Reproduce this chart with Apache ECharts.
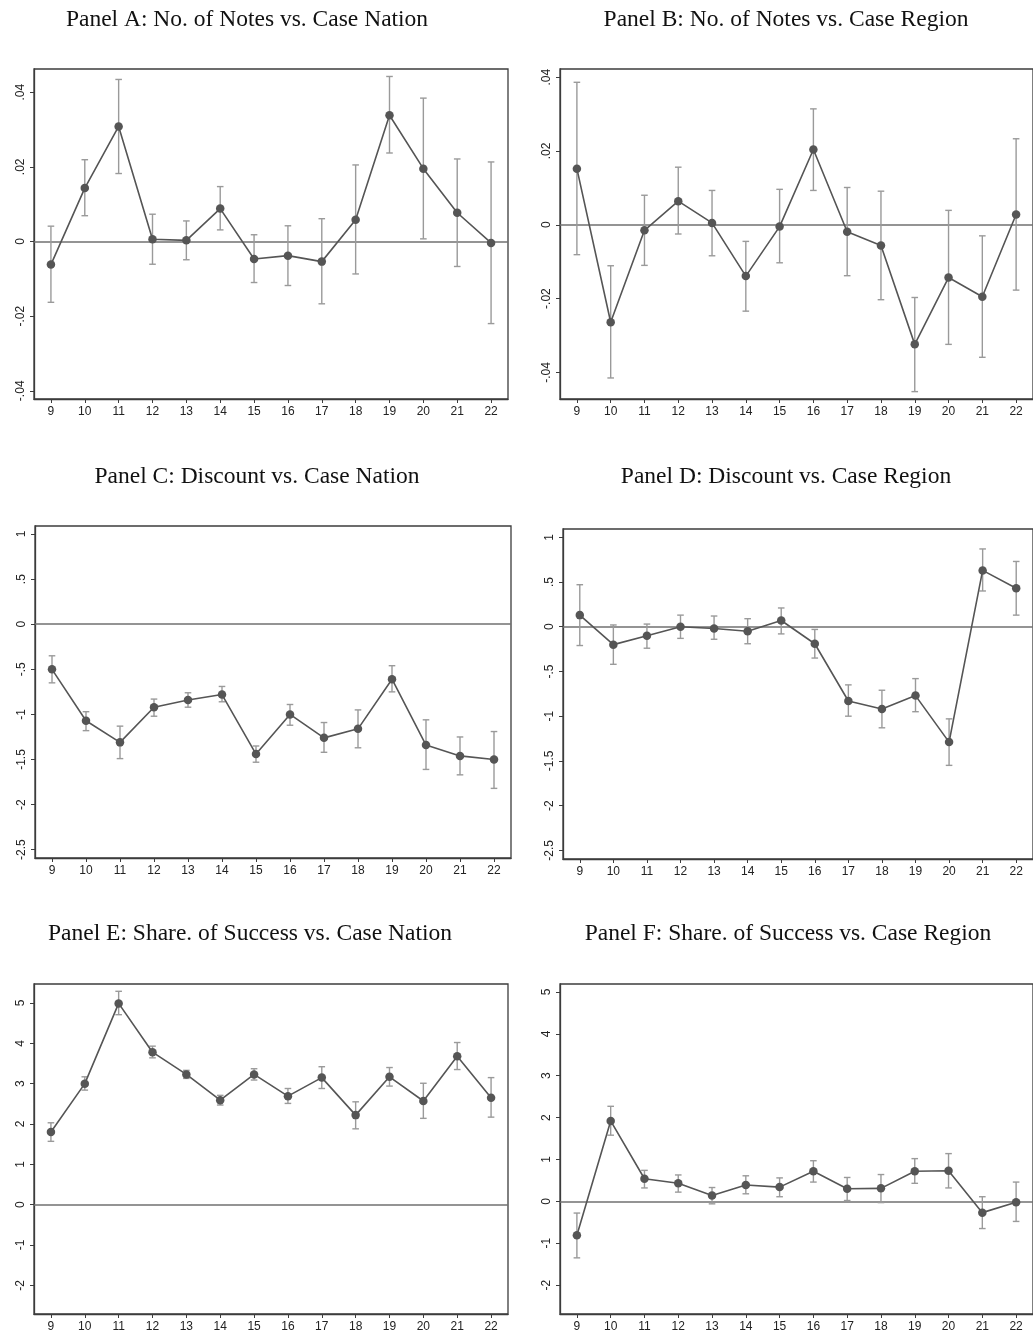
<!DOCTYPE html>
<html>
<head>
<meta charset="utf-8">
<title>Case-age coefficient plots</title>
<script src="https://cdn.jsdelivr.net/npm/echarts@6/dist/echarts.min.js"></script>
<style>
  html, body { margin: 0; padding: 0; background: #ffffff; }
  #chart { width: 1033px; height: 1338px; }
</style>
</head>
<body>
<div id="chart"></div>
<script>
// Case categories on the horizontal axis
const cases = ['9', '10', '11', '12', '13', '14', '15', '16', '17', '18', '19', '20', '21', '22'];

// Panel A: No. of Notes vs. Case Nation
const notesNationCoef = [-0.0062, 0.0143, 0.0308, 0.0006, 0.0003, 0.0088, -0.0047, -0.0038, -0.0054, 0.0058, 0.0338, 0.0195, 0.0077, -0.0004];
const notesNationLow  = [-0.0163, 0.0069, 0.0182, -0.0061, -0.0049, 0.0031, -0.0110, -0.0118, -0.0167, -0.0087, 0.0237, 0.0007, -0.0067, -0.0220];
const notesNationHigh = [0.0041, 0.0219, 0.0434, 0.0073, 0.0055, 0.0147, 0.0018, 0.0042, 0.0061, 0.0205, 0.0442, 0.0384, 0.0221, 0.0213];

// Panel B: No. of Notes vs. Case Region
const notesRegionCoef = [0.0152, -0.0264, -0.0015, 0.0064, 0.0005, -0.0139, -0.0005, 0.0204, -0.0019, -0.0056, -0.0324, -0.0143, -0.0195, 0.0028];
const notesRegionLow  = [-0.0081, -0.0415, -0.0110, -0.0025, -0.0084, -0.0234, -0.0103, 0.0093, -0.0138, -0.0203, -0.0452, -0.0324, -0.0359, -0.0177];
const notesRegionHigh = [0.0386, -0.0111, 0.0080, 0.0156, 0.0093, -0.0045, 0.0096, 0.0314, 0.0101, 0.0091, -0.0197, 0.0039, -0.0030, 0.0233];

// Panel C: Discount vs. Case Nation
const discountNationCoef = [-0.50, -1.07, -1.31, -0.92, -0.84, -0.78, -1.44, -1.00, -1.26, -1.16, -0.61, -1.34, -1.46, -1.50];
const discountNationLow  = [-0.65, -1.18, -1.49, -1.02, -0.92, -0.86, -1.53, -1.12, -1.42, -1.37, -0.75, -1.61, -1.67, -1.82];
const discountNationHigh = [-0.35, -0.97, -1.13, -0.83, -0.76, -0.69, -1.35, -0.89, -1.09, -0.95, -0.46, -1.06, -1.25, -1.19];

// Panel D: Discount vs. Case Region
const discountRegionCoef = [0.13, -0.20, -0.10, 0.00, -0.02, -0.05, 0.07, -0.19, -0.83, -0.92, -0.77, -1.29, 0.63, 0.43];
const discountRegionLow  = [-0.21, -0.42, -0.24, -0.13, -0.14, -0.19, -0.08, -0.35, -1.00, -1.13, -0.95, -1.55, 0.40, 0.13];
const discountRegionHigh = [0.47, 0.02, 0.03, 0.13, 0.12, 0.09, 0.21, -0.03, -0.65, -0.71, -0.58, -1.03, 0.87, 0.73];

// Panel E: Share. of Success vs. Case Nation
const successNationCoef = [1.80, 3.00, 4.99, 3.78, 3.23, 2.59, 3.23, 2.69, 3.15, 2.22, 3.17, 2.57, 3.68, 2.65];
const successNationLow  = [1.57, 2.84, 4.71, 3.64, 3.13, 2.47, 3.09, 2.51, 2.88, 1.88, 2.94, 2.14, 3.35, 2.17];
const successNationHigh = [2.03, 3.17, 5.29, 3.93, 3.33, 2.71, 3.37, 2.88, 3.42, 2.55, 3.40, 3.01, 4.02, 3.15];

// Panel F: Share. of Success vs. Case Region
const successRegionCoef = [-0.81, 1.92, 0.54, 0.43, 0.14, 0.39, 0.34, 0.72, 0.30, 0.31, 0.72, 0.73, -0.27, -0.02];
const successRegionLow  = [-1.35, 1.58, 0.32, 0.22, -0.06, 0.18, 0.11, 0.46, 0.02, -0.03, 0.43, 0.32, -0.65, -0.48];
const successRegionHigh = [-0.28, 2.27, 0.74, 0.63, 0.33, 0.61, 0.56, 0.97, 0.57, 0.64, 1.02, 1.14, 0.11, 0.46];

// Vertical tick values
const notesTicks = [-0.04, -0.02, 0, 0.02, 0.04];
const discountTicks = [-2.5, -2, -1.5, -1, -0.5, 0, 0.5, 1];
const successTicks = [-2, -1, 0, 1, 2, 3, 4, 5];

// Panel titles
const panelTitles = [
  'Panel A: No. of Notes vs. Case Nation',
  'Panel B: No. of Notes vs. Case Region',
  'Panel C: Discount vs. Case Nation',
  'Panel D: Discount vs. Case Region',
  'Panel E: Share. of Success vs. Case Nation',
  'Panel F: Share. of Success vs. Case Region'
];

// Layout of each panel (plot region in px, vertical range, title anchor)
const panels = [
  { coef: notesNationCoef, low: notesNationLow, high: notesNationHigh, ticks: notesTicks,
    grid: { left: 34, top: 69, width: 474, height: 330 }, yMin: -0.0422, yMax: 0.0462, titleX: 247, titleY: 20 },
  { coef: notesRegionCoef, low: notesRegionLow, high: notesRegionHigh, ticks: notesTicks,
    grid: { left: 560, top: 69, width: 477, height: 330 }, yMin: -0.0472, yMax: 0.0422, titleX: 786, titleY: 20 },
  { coef: discountNationCoef, low: discountNationLow, high: discountNationHigh, ticks: discountTicks,
    grid: { left: 35, top: 526, width: 476, height: 332 }, yMin: -2.592, yMax: 1.089, titleX: 257, titleY: 477 },
  { coef: discountRegionCoef, low: discountRegionLow, high: discountRegionHigh, ticks: discountTicks,
    grid: { left: 563, top: 529, width: 475, height: 330 }, yMin: -2.597, yMax: 1.093, titleX: 786, titleY: 477 },
  { coef: successNationCoef, low: successNationLow, high: successNationHigh, ticks: successTicks,
    grid: { left: 34, top: 984, width: 474, height: 330 }, yMin: -2.711, yMax: 5.471, titleX: 250, titleY: 934 },
  { coef: successRegionCoef, low: successRegionLow, high: successRegionHigh, ticks: successTicks,
    grid: { left: 560, top: 984, width: 477, height: 330 }, yMin: -2.691, yMax: 5.191, titleX: 788, titleY: 934 }
];

const FRAME = '#3c3c3c';
const MARK = '#555555';
const CI = '#9a9a9a';
const ZERO = '#707070';
const tickFont = { fontFamily: 'Liberation Sans, Arial, sans-serif', fontSize: 12, color: '#222' };

// Leading-zero-free tick labels, e.g. -.04, .5
function fmtTick(v) {
  const s = String(Math.round(v * 1000) / 1000);
  return s.replace(/^(-?)0\./, '$1.');
}

const grids = [], xAxes = [], yAxes = [], series = [], graphics = [];

panels.forEach((p, i) => {
  grids.push(Object.assign({ show: true, borderColor: FRAME, borderWidth: 1.3, backgroundColor: '#fff', containLabel: false }, p.grid));

  xAxes.push({
    type: 'category', gridIndex: i, data: cases, boundaryGap: true,
    axisLine: { show: true, onZero: false, lineStyle: { color: FRAME, width: 1.3 } },
    axisTick: { show: true, alignWithLabel: true, length: 4, lineStyle: { color: FRAME, width: 1 } },
    axisLabel: Object.assign({ margin: 7 }, tickFont),
    splitLine: { show: false }
  });

  yAxes.push({
    type: 'value', gridIndex: i, min: p.yMin, max: p.yMax,
    axisLine: { show: true, onZero: false, lineStyle: { color: FRAME, width: 1.3 } },
    axisTick: { show: true, length: 4, customValues: p.ticks, lineStyle: { color: FRAME, width: 1 } },
    axisLabel: Object.assign({ rotate: 90, margin: 7, customValues: p.ticks, formatter: fmtTick }, tickFont),
    splitLine: { show: false }
  });

  // Confidence-interval whiskers with caps
  series.push({
    type: 'custom', xAxisIndex: i, yAxisIndex: i, z: 2, silent: true,
    data: cases.map((c, k) => [k, p.low[k], p.high[k]]),
    encode: { x: 0, y: [1, 2] },
    renderItem: function (params, api) {
      const k = api.value(0);
      const lo = api.coord([k, api.value(1)]);
      const hi = api.coord([k, api.value(2)]);
      const cap = 3.3;
      const st = { stroke: CI, lineWidth: 1.4 };
      return {
        type: 'group',
        children: [
          { type: 'line', shape: { x1: lo[0], y1: lo[1], x2: hi[0], y2: hi[1] }, style: st },
          { type: 'line', shape: { x1: hi[0] - cap, y1: hi[1], x2: hi[0] + cap, y2: hi[1] }, style: st },
          { type: 'line', shape: { x1: lo[0] - cap, y1: lo[1], x2: lo[0] + cap, y2: lo[1] }, style: st }
        ]
      };
    }
  });

  // Point estimates connected by a line, with the zero reference line
  series.push({
    type: 'line', xAxisIndex: i, yAxisIndex: i, z: 3, silent: true,
    data: p.coef,
    symbol: 'circle', symbolSize: 8.5,
    itemStyle: { color: MARK },
    lineStyle: { color: MARK, width: 1.6 },
    markLine: {
      silent: true, symbol: ['none', 'none'], label: { show: false },
      lineStyle: { color: ZERO, width: 1.6, type: 'solid' },
      z: 1,
      data: [{ yAxis: 0 }]
    }
  });

  graphics.push({
    type: 'text', x: p.titleX, y: p.titleY,
    style: {
      text: panelTitles[i], fill: '#111',
      font: '23.5px "Liberation Serif", "Times New Roman", serif',
      textAlign: 'center', textVerticalAlign: 'middle'
    }
  });
});

const chart = echarts.init(document.getElementById('chart'), null, { renderer: 'canvas' });
chart.setOption({
  animation: false,
  backgroundColor: '#ffffff',
  grid: grids,
  xAxis: xAxes,
  yAxis: yAxes,
  series: series,
  graphic: graphics
});
</script>
</body>
</html>
